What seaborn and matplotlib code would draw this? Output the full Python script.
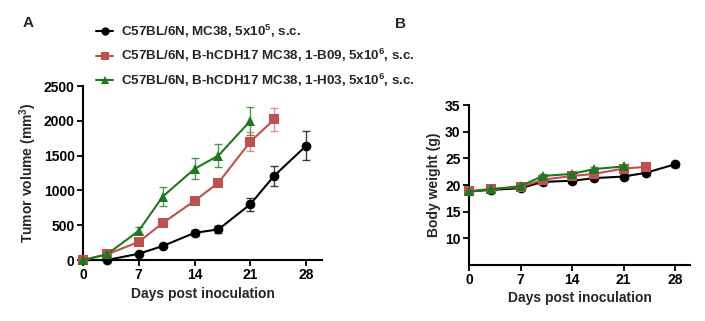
import matplotlib
matplotlib.use("Agg")
import matplotlib.pyplot as plt
import seaborn as sns
import pandas as pd
import numpy as np
from matplotlib.lines import Line2D

sns.set_theme(style="ticks")
plt.rcParams['font.family'] = ['Liberation Sans', 'DejaVu Sans']
plt.rcParams['font.weight'] = 'bold'
plt.rcParams['mathtext.fontset'] = 'custom'
plt.rcParams['mathtext.rm'] = 'Liberation Sans:bold'
plt.rcParams['mathtext.bf'] = 'Liberation Sans:bold'
plt.rcParams['mathtext.default'] = 'bf'

groups = ["C57BL/6N, MC38, 5x10$^5$, s.c.",
          "C57BL/6N, B-hCDH17 MC38, 1-B09, 5x10$^6$, s.c.",
          "C57BL/6N, B-hCDH17 MC38, 1-H03, 5x10$^6$, s.c."]
colors = ["#000000", "#C0504D", "#1B7A1B"]
markers = ["o", "s", "^"]

days_black = [0, 3, 7, 10, 14, 17, 21, 24, 28]
days_red = [0, 3, 7, 10, 14, 17, 21, 24]
days_green = [0, 3, 7, 10, 14, 17, 21]

tumor_black = [0, 0, 90, 200, 390, 440, 800, 1210, 1640]
tumor_black_err = [0, 0, 15, 20, 40, 50, 90, 140, 210]
tumor_red = [0, 80, 260, 530, 850, 1110, 1700, 2020]
tumor_red_err = [0, 10, 20, 25, 30, 50, 140, 170]
tumor_green = [0, 80, 420, 910, 1310, 1500, 2000]
tumor_green_err = [0, 10, 50, 140, 150, 170, 200]

bw_black = [18.8, 19.1, 19.4, 20.6, 20.8, 21.3, 21.6, 22.3, 23.9]
bw_black_err = [0.3, 0.3, 0.3, 0.4, 0.4, 0.4, 0.3, 0.4, 0.5]
bw_red = [18.8, 19.3, 19.6, 21.0, 21.7, 22.1, 23.1, 23.4]
bw_red_err = [0.3, 0.3, 0.3, 0.4, 0.4, 0.4, 0.4, 0.4]
bw_green = [18.8, 19.2, 19.8, 21.7, 22.1, 23.0, 23.5]
bw_green_err = [0.3, 0.3, 0.3, 0.4, 0.4, 0.4, 0.4]

def make_df(days_list, vals_list, errs_list):
    rows = []
    for g, d, v, e in zip(groups, days_list, vals_list, errs_list):
        for dd, vv, ee in zip(d, v, e):
            rows.append({"group": g, "day": dd, "value": vv, "err": ee})
    return pd.DataFrame(rows)

df_t = make_df([days_black, days_red, days_green],
               [tumor_black, tumor_red, tumor_green],
               [tumor_black_err, tumor_red_err, tumor_green_err])
df_b = make_df([days_black, days_red, days_green],
               [bw_black, bw_red, bw_green],
               [bw_black_err, bw_red_err, bw_green_err])

fig = plt.figure(figsize=(7.05, 3.21), dpi=100)
axA = fig.add_axes([0.1177, 0.190, 0.339, 0.542])
axB = fig.add_axes([0.6652, 0.1745, 0.3135, 0.498])

palette = dict(zip(groups, colors))
mk = dict(zip(groups, markers))

def draw(ax, df):
    for g in groups[::-1]:
        sub = df[df.group == g]
        alpha = 0.6 if g == groups[1] else 0.75
        ax.errorbar(sub["day"], sub["value"], yerr=sub["err"], fmt="none",
                    ecolor=palette[g], elinewidth=1.0, capsize=3, capthick=1.0,
                    alpha=alpha, clip_on=False, zorder=2)
    sns.lineplot(data=df, x="day", y="value", hue="group", style="group",
                 palette=palette, markers=mk, dashes=False, ax=ax,
                 legend=False, linewidth=1.5, markersize=7, markeredgewidth=0,
                 clip_on=False, zorder=3, hue_order=groups, style_order=groups)
    for s in ["top", "right"]:
        ax.spines[s].set_visible(False)
    for s in ["left", "bottom"]:
        ax.spines[s].set_linewidth(1.5)
        ax.spines[s].set_color("black")
    ax.tick_params(direction="out", length=4, width=1.3, labelsize=10,
                   colors="black", pad=2)
    ax.set_xlabel("Days post inoculation", fontsize=10, fontweight="bold", labelpad=3)
    ax.set_xlim(0, 30)
    ax.set_xticks([0, 7, 14, 21, 28])

draw(axA, df_t)
axA.set_ylim(0, 2500)
axA.set_yticks([0, 500, 1000, 1500, 2000, 2500])
axA.set_ylabel("Tumor volume (mm$^3$)", fontsize=10, fontweight="bold", labelpad=3)

draw(axB, df_b)
axB.set_ylim(5, 35)
axB.set_yticks([10, 15, 20, 25, 30, 35])
axB.set_ylabel("Body weight (g)", fontsize=10, fontweight="bold", labelpad=3)

for ax in (axA, axB):
    for lab in ax.get_xticklabels() + ax.get_yticklabels():
        lab.set_fontweight("bold")

handles = [Line2D([0], [0], color=c, marker=m, markersize=6, linewidth=1.5,
                  markeredgewidth=0) for c, m in zip(colors, markers)]
fig.legend(handles, groups, loc="upper left", bbox_to_anchor=(0.125, 0.955),
           frameon=False, handlelength=1.3, handletextpad=0.6,
           labelspacing=0.55, borderaxespad=0.2,
           prop={"weight": "bold", "size": 9.6})

fig.text(28/705, 1 - 23/321, "A", fontsize=11, fontweight="bold", ha="center", va="center")
fig.text(400/705, 1 - 24/321, "B", fontsize=11, fontweight="bold", ha="center", va="center")

fig.savefig("out.png", dpi=100)
